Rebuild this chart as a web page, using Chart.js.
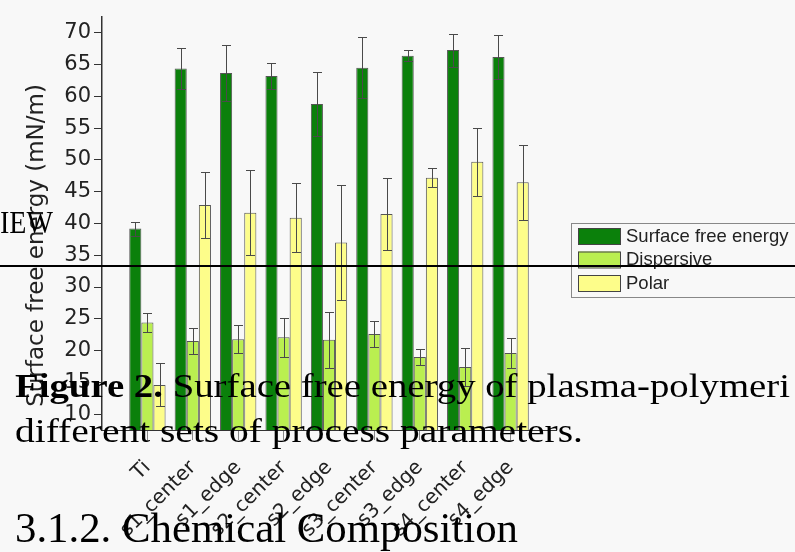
<!DOCTYPE html>
<html><head><meta charset="utf-8">
<script src="https://cdn.jsdelivr.net/npm/chart.js@4/dist/chart.umd.min.js"></script>
<style>
html,body{margin:0;padding:0;background:#f8f8f8;}
#wrap{position:relative;width:795px;height:552px;overflow:hidden;background:#f8f8f8;}
#c{position:absolute;left:0;top:0;}
.ov{position:absolute;white-space:nowrap;font-family:"Liberation Serif",serif;color:#000;line-height:1;transform-origin:0 0;pointer-events:none;}
#rule{position:absolute;left:0;top:265px;width:795px;height:2px;background:#000;}
</style></head><body>
<div id="wrap">
<canvas id="c" width="795" height="552"></canvas>
<div class="ov" data-x="0" data-base="233" data-size="31" data-w="53">IEW</div>
<div id="rule"></div>
<div class="ov" data-x="15" data-base="398" data-size="33" data-w="775"><b>Figure 2.</b> Surface free energy of plasma-polymeri</div>
<div class="ov" data-x="15" data-base="443" data-size="33" data-w="568">different sets of process parameters.</div>
<div class="ov" data-x="15" data-base="542" data-size="42" data-w="503">3.1.2. Chemical Composition</div>
</div>
<script>
// ---- data ----
const categories = ['Ti','s1_center','s1_edge','s2_center','s2_edge','s3_center','s3_edge','s4_center','s4_edge'];
const seriesNames = ['Surface free energy','Dispersive','Polar'];
const surfaceFreeEnergy    = [39.2, 64.4, 63.7, 63.2, 58.8, 64.5, 66.4, 67.3, 66.2];
const surfaceFreeEnergyErr = [1.1, 3.2, 4.4, 2.1, 5.1, 4.8, 0.9, 2.6, 3.5];
const dispersive           = [24.4, 21.5, 21.8, 22.1, 21.7, 22.6, 19.0, 17.4, 19.6];
const dispersiveErr        = [1.5, 2.0, 2.2, 3.1, 4.4, 2.0, 1.2, 3.0, 2.4];
const polar                = [14.6, 42.9, 41.7, 40.9, 37.0, 41.5, 47.2, 49.7, 46.5];
const polarErr             = [3.4, 5.2, 6.7, 5.4, 9.0, 5.6, 1.5, 5.4, 5.9];
const yTickValues = [10,15,20,25,30,35,40,45,50,55,60,65,70];
const yTitle = 'Surface free energy (mN/m)';

// ---- overlay page text ----
document.querySelectorAll('.ov').forEach(el=>{
  const size = +el.dataset.size;
  el.style.fontSize = size + 'px';
  el.style.left = el.dataset.x + 'px';
  el.style.top = (el.dataset.base - 0.8375*size) + 'px';
  const w = el.getBoundingClientRect().width;
  el.style.transform = 'scaleX(' + (el.dataset.w / w) + ')';
});

const colors = ['#0b800b', '#baef50', '#fdfd8a'];
const toPoints = arr => arr.map((v,i)=>({x:i+1, y:v}));

const errorBars = {
  id:'errorBars',
  afterDatasetsDraw(chart){
    const ctx = chart.ctx, ys = chart.scales.y;
    ctx.save();
    ctx.strokeStyle = '#4a4a4a';
    ctx.lineWidth = 1;
    chart.data.datasets.forEach((ds,di)=>{
      const meta = chart.getDatasetMeta(di);
      meta.data.forEach((el,j)=>{
        const v = ds.data[j].y, e = ds.errors[j];
        const x = Math.round(el.x)+0.5;
        const yt = Math.round(ys.getPixelForValue(v+e))+0.5;
        const yb = Math.round(ys.getPixelForValue(v-e))+0.5;
        ctx.beginPath();
        ctx.moveTo(x,yt); ctx.lineTo(x,yb);
        ctx.moveTo(x-4.5,yt); ctx.lineTo(x+4.5,yt);
        ctx.moveTo(x-4.5,yb); ctx.lineTo(x+4.5,yb);
        ctx.stroke();
      });
    });
    ctx.restore();
  }
};

const boxLegend = {
  id:'boxLegend',
  afterDraw(chart){
    const ctx = chart.ctx;
    const x0 = chart.chartArea.right + 15, y0 = 223;
    ctx.save();
    ctx.strokeStyle = '#888'; ctx.lineWidth = 1;
    ctx.strokeRect(x0+0.5, y0+0.5, 250, 74);
    ctx.font = '18.5px "Liberation Sans", Arial, sans-serif';
    ctx.textBaseline = 'middle';
    chart.data.datasets.forEach((ds,i)=>{
      const y = y0 + 5 + i*23.5;
      ctx.fillStyle = ds.backgroundColor;
      ctx.fillRect(x0+7, y, 42, 16);
      ctx.strokeStyle = '#444';
      ctx.strokeRect(x0+7.5, y+0.5, 42, 16);
      ctx.fillStyle = '#222';
      ctx.fillText(ds.label, x0+55, y+8.5);
    });
    ctx.restore();
  }
};

const seriesValues = [surfaceFreeEnergy, dispersive, polar];
const seriesErrors = [surfaceFreeEnergyErr, dispersiveErr, polarErr];

new Chart(document.getElementById('c'), {
  type:'bar',
  data:{
    datasets: seriesNames.map((n,i)=>({
      label:n,
      data:toPoints(seriesValues[i]),
      errors:seriesErrors[i],
      backgroundColor:colors[i],
      borderColor:'#555',
      borderWidth:1,
      categoryPercentage:0.8,
      barPercentage:1.0
    }))
  },
  options:{
    responsive:false, animation:false, devicePixelRatio:1,
    layout:{padding:{left:0, top:17, right:239, bottom:0}},
    scales:{
      x:{
        type:'linear', min:0, max:10, offset:false,
        afterBuildTicks(s){ s.ticks = categories.map((c,i)=>({value:i+1})); },
        afterFit(s){ s.height = 122; },
        ticks:{autoSkip:false, maxRotation:45, minRotation:45,
          callback:(v)=>categories[v-1] ?? '',
          font:{family:'DejaVu Sans', size:20}, color:'#222', padding:16},
        grid:{offset:false, drawOnChartArea:false, drawTicks:true, tickLength:10, color:'#888'},
        border:{display:true, color:'#333', width:1}
      },
      y:{
        min:7.5, max:72.5,
        afterBuildTicks(s){ s.ticks = yTickValues.map(v=>({value:v})); },
        afterFit(s){ s.width = 102; },
        ticks:{font:{family:'DejaVu Sans', size:21}, color:'#222', padding:3},
        grid:{drawOnChartArea:false, drawTicks:true, tickLength:8, color:'#333'},
        border:{color:'#333', width:1.5},
        title:{display:true, text:yTitle + '      ', font:{family:'DejaVu Sans', size:23}, color:'#222', padding:{top:23, bottom:0}}
      }
    },
    plugins:{legend:{display:false}, tooltip:{enabled:false}}
  },
  plugins:[errorBars, boxLegend]
});
</script>
</body></html>
